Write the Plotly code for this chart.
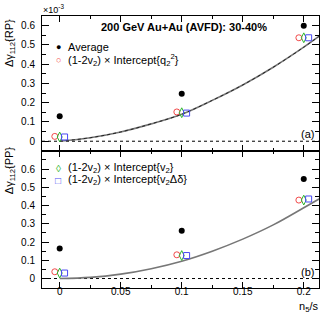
import plotly.graph_objects as go
from plotly.subplots import make_subplots

# ---- data (units of 1e-3) ----
ns = [0.0, 0.1, 0.2]
off = 0.004
rp_avg = [0.13, 0.247, 0.60]
rp_q2 = [0.025, 0.152, 0.537]
rp_v2 = [0.022, 0.148, 0.537]
rp_dd = [0.022, 0.146, 0.537]
pp_avg = [0.165, 0.262, 0.545]
pp_q2 = [0.037, 0.13, 0.43]
pp_v2 = [0.03, 0.126, 0.43]
pp_dd = [0.03, 0.126, 0.436]

curve_x = [0, 0.025, 0.05, 0.075, 0.1, 0.125, 0.15, 0.175, 0.2, 0.215]
rp_curve = [0, 0.018, 0.048, 0.09, 0.14, 0.212, 0.292, 0.384, 0.488, 0.556]
pp_curve = [0, 0.006, 0.024, 0.054, 0.095, 0.15, 0.216, 0.294, 0.388, 0.446]

xticks = [0, 0.05, 0.1, 0.15, 0.2]
xticklabels = ["0", "0.05", "0.1", "0.15", "0.2"]
yticks = [0, 0.1, 0.2, 0.3, 0.4, 0.5, 0.6]
yticklabels = ["0", "0.1", "0.2", "0.3", "0.4", "0.5", "0.6"]

RED = "#f24a4a"
GREEN = "#2fb52f"
BLUE = "#4a4af2"
FONT = "Liberation Sans, Arial, sans-serif"

top_h, bot_h = 134.7, 137.0
fig = make_subplots(rows=2, cols=1, shared_xaxes=True, vertical_spacing=0,
                    row_heights=[top_h, bot_h])

def shift(xs, d):
    return [x + d for x in xs]

for row, cur, avg, q2, v2, dd in [(1, rp_curve, rp_avg, rp_q2, rp_v2, rp_dd),
                                  (2, pp_curve, pp_avg, pp_q2, pp_v2, pp_dd)]:
    fig.add_trace(go.Scatter(x=curve_x, y=cur, mode="lines", line_shape="spline",
                             line=dict(color="#777777", width=1.6), showlegend=False), row=row, col=1)
    if row == 1:
        fig.add_trace(go.Scatter(x=curve_x, y=cur, mode="lines", line_shape="spline",
                                 line=dict(color="#222222", width=1, dash="dot"), showlegend=False), row=row, col=1)
    fig.add_trace(go.Scatter(x=ns, y=avg, mode="markers",
                             marker=dict(symbol="circle", size=6, color="black"), showlegend=False), row=row, col=1)
    fig.add_trace(go.Scatter(x=shift(ns, -off), y=q2, mode="markers",
                             marker=dict(symbol="circle-open", size=6, color=RED, line=dict(width=1)),
                             showlegend=False), row=row, col=1)
    fig.add_trace(go.Scatter(x=ns, y=v2, mode="markers",
                             marker=dict(symbol="diamond-tall-open", size=7, color=GREEN, line=dict(width=1)),
                             showlegend=False), row=row, col=1)
    fig.add_trace(go.Scatter(x=shift(ns, off), y=dd, mode="markers",
                             marker=dict(symbol="square-open", size=6, color=BLUE, line=dict(width=1)),
                             showlegend=False), row=row, col=1)
    fig.add_shape(type="line", xref=f"x{'' if row == 1 else row} domain", yref=f"y{'' if row == 1 else row}",
                  x0=0, x1=1, y0=0, y1=0, line=dict(color="black", width=1, dash="dot"), layer="below")

axis_common = dict(showline=True, linecolor="black", linewidth=1, mirror="allticks",
                   ticks="inside", tickcolor="black", showgrid=False, zeroline=False,
                   automargin=False,
                   tickfont=dict(family=FONT, size=10, color="black"))

fig.update_xaxes(range=[-0.0145, 0.2125], tickvals=xticks, ticktext=xticklabels, ticklen=6,
                 ticklabelstandoff=-6,
                 minor=dict(dtick=0.025, tick0=0, ticklen=3, ticks="inside", tickcolor="black"),
                 **axis_common)
fig.update_xaxes(showticklabels=False, row=1, col=1)
fig.update_yaxes(tickvals=yticks, ticktext=yticklabels, ticklen=7, ticklabelstandoff=4,
                 minor=dict(dtick=0.05, tick0=0, ticklen=4, ticks="inside", tickcolor="black"),
                 **axis_common)
fig.update_yaxes(range=[-0.05, 0.65], row=1, col=1)
fig.update_yaxes(range=[-0.052, 0.70], row=2, col=1)

L, R, T, B = 42, 5, 16, 27.3
W, H = 324, 315
pw = W - L - R
ph = H - T - B

def px(x):
    return (x - L) / pw

def py(y):
    return 1 - (y - T) / ph

ann = []
def add(text, x, y, xa="left", ya="middle", size=11, color="black", angle=0):
    ann.append(dict(text=text, x=px(x), y=py(y), xref="paper", yref="paper",
                    xanchor=xa, yanchor=ya, showarrow=False, textangle=angle,
                    font=dict(family=FONT, size=size, color=color)))

add("<b>200 GeV Au+Au (AVFD): 30-40%</b>", 184, 27, xa="center", size=11)
add("●", 58, 47, xa="center", size=9)
add("Average", 66, 47)
add("○", 58, 60, xa="center", size=9, color=RED)
add("(1-2v<sub>2</sub>) × Intercept{q<sub>2</sub><sup>2</sup>}", 66, 60)
add("◊", 58, 168, xa="center", size=10, color=GREEN)
add("(1-2v<sub>2</sub>) × Intercept{v<sub>2</sub>}", 66, 168)
add("□", 58, 180, xa="center", size=10, color=BLUE)
add("(1-2v<sub>2</sub>) × Intercept{v<sub>2</sub>Δδ}", 66, 180)
add("(a)", 316, 134, xa="right", size=11)
add("(b)", 316, 272, xa="right", size=11)
add("×10<sup>-3</sup>", 41, 9, xa="left", size=9)
add("Δγ<sub>112</sub>{RP}", 10, 43, xa="center", angle=-90, size=11)
add("Δγ<sub>112</sub>{PP}", 10, 171, xa="center", angle=-90, size=11)
add("n<sub>5</sub>/s", 320, 307, xa="right", size=11)

fig.update_layout(width=W, height=H, margin=dict(l=L, r=R, t=T, b=B, autoexpand=False),
                  paper_bgcolor="white", plot_bgcolor="white", showlegend=False,
                  annotations=ann, font=dict(family=FONT, color="black"))

fig.write_html("out.html", config={"displayModeBar": False},
               post_script="document.body.style.margin='0px';")
